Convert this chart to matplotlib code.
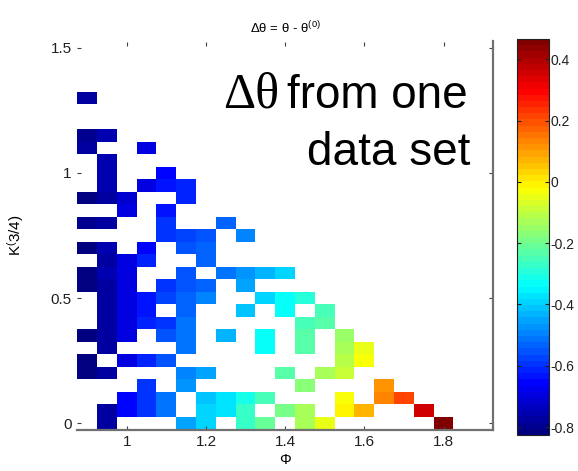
import numpy as np
import matplotlib
matplotlib.use("Agg")
import matplotlib.pyplot as plt
from matplotlib.colors import LinearSegmentedColormap

plt.rcParams["font.family"] = ["Liberation Sans", "DejaVu Sans"]
plt.rcParams["mathtext.fontset"] = "custom"
plt.rcParams["mathtext.rm"] = "Liberation Sans"
plt.rcParams["mathtext.it"] = "Liberation Sans:italic"
plt.rcParams["mathtext.default"] = "regular"
plt.rcParams["axes.unicode_minus"] = False

n = np.nan

# Bin centres of the (Phi, K^(3/4)) grid
phi_centers = [0.90, 0.95, 1.00, 1.05, 1.10, 1.15, 1.20, 1.25, 1.30, 1.35,
               1.40, 1.45, 1.50, 1.55, 1.60, 1.65, 1.70, 1.75, 1.80]
k_centers = [0.00, 0.05, 0.10, 0.15, 0.20, 0.25, 0.30, 0.35, 0.40, 0.45,
             0.50, 0.55, 0.60, 0.65, 0.70, 0.75, 0.80, 0.85, 0.90, 0.95,
             1.00, 1.05, 1.10, 1.15, 1.20, 1.25, 1.30]

# Delta theta per bin, one list per K row (bottom row first); NaN = empty bin
dtheta_rows = [
    [n, -0.775, n, n, n, -0.46, -0.40, n, -0.27, -0.215, n, -0.127, -0.056, n, n, n, n, n, 0.466],
    [n, -0.775, -0.663, -0.602, -0.51, n, -0.40, -0.37, -0.28, n, -0.185, -0.137, n, -0.016, 0.065, n, n, 0.347],
    [n, n, -0.663, -0.602, -0.521, n, -0.42, -0.37, -0.32, -0.258, n, n, n, -0.035, n, 0.136, 0.207],
    [n, n, n, -0.602, n, -0.481, n, n, n, n, n, -0.178, n, n, n, 0.106],
    [-0.82, -0.775, n, n, n, -0.49, -0.45, n, n, n, -0.238, n, -0.137, -0.087],
    [-0.82, n, -0.703, -0.623, -0.562, n, n, n, n, n, n, n, n, -0.106, -0.035],
    [n, -0.77, n, n, n, -0.521, n, n, n, -0.33, n, -0.238, n, -0.127, -0.05],
    [-0.82, -0.77, -0.70, n, -0.562, -0.521, n, -0.425, n, -0.339, n, -0.238, n, -0.145],
    [n, -0.77, -0.70, -0.623, -0.60, -0.521, n, n, n, n, n, -0.258, -0.23],
    [n, -0.77, -0.685, -0.642, n, -0.541, n, n, -0.42, n, -0.339, n, -0.258],
    [n, -0.77, -0.70, -0.642, -0.582, -0.541, -0.501, n, n, -0.39, -0.339, -0.299],
    [-0.815, -0.77, -0.70, n, -0.602, -0.562, -0.53, n, -0.455],
    [-0.806, -0.764, -0.703, n, n, -0.562, n, -0.51, -0.47, -0.43, -0.39],
    [n, -0.77, -0.703, -0.623, n, n, -0.541],
    [-0.806, -0.764, n, -0.663, n, -0.562, -0.541],
    [n, n, n, n, -0.602, -0.582, -0.55, n, -0.501],
    [-0.80, -0.775, n, n, -0.602, n, n, -0.541],
    [n, n, -0.703, n, -0.642],
    [-0.81, -0.775, -0.72, n, n, -0.623],
    [n, -0.76, n, -0.70, -0.642, -0.623],
    [n, -0.76, n, n, -0.663],
    [n, -0.76],
    [-0.78, n, n, -0.69],
    [-0.79, -0.76],
    [],
    [],
    [-0.77],
]

x_ticks = [1.0, 1.2, 1.4, 1.6, 1.8]
x_ticklabels = ["1", "1.2", "1.4", "1.6", "1.8"]
y_ticks = [0.0, 0.5, 1.0, 1.5]
y_ticklabels = ["0", "0.5", "1", "1.5"]
cb_ticks = [-0.8, -0.6, -0.4, -0.2, 0.0, 0.2, 0.4]
cb_ticklabels = ["-0.8", "-0.6", "-0.4", "-0.2", "0", "0.2", "0.4"]
c_min, c_max = -0.826, 0.466

# assemble the grid
Z = np.full((len(k_centers), len(phi_centers)), np.nan)
for j, row in enumerate(dtheta_rows):
    Z[j, :len(row)] = row
phi_c = np.asarray(phi_centers)
k_c = np.asarray(k_centers)
dphi = phi_c[1] - phi_c[0]
dk = k_c[1] - k_c[0]
phi_edges = np.append(phi_c - dphi / 2, phi_c[-1] + dphi / 2)
k_edges = np.append(k_c - dk / 2, k_c[-1] + dk / 2)

# classic 64-level jet
jet64 = LinearSegmentedColormap.from_list(
    "jet64",
    [(0.0, (0, 0, 0.5)), (1 / 8, (0, 0, 1)), (3 / 8, (0, 1, 1)),
     (5 / 8, (1, 1, 0)), (7 / 8, (1, 0, 0)), (1.0, (0.5, 0, 0))],
    N=64,
)

W, H = 578, 471
fig = plt.figure(figsize=(W / 100, H / 100), dpi=100)
ax = fig.add_axes([77.3 / W, 1 - 429.5 / H, (493 - 77.3) / W, (429.5 - 41.5) / H])
cax = fig.add_axes([517.3 / W, 1 - 435 / H, 31.7 / W, (435 - 39) / H])

mesh = ax.pcolormesh(phi_edges, k_edges, np.ma.masked_invalid(Z), cmap=jet64,
                     vmin=c_min, vmax=c_max, shading="flat")
ax.set_xlim(0.875, 1.925)
ax.set_ylim(-0.025, 1.525)

ax.set_xticks(x_ticks)
ax.set_xticklabels(x_ticklabels)
ax.set_yticks(y_ticks)
ax.set_yticklabels(y_ticklabels)
ax.tick_params(direction="in", top=True, right=True, length=3, width=0.8,
               color="#404040", labelsize=11, pad=4, labelcolor="#202020")
for side in ("left", "top"):
    ax.spines[side].set_visible(False)
for side in ("bottom", "right"):
    ax.spines[side].set_color("#707070")
    ax.spines[side].set_linewidth(1.6)

ax.set_xlabel("Φ", fontsize=10.5, labelpad=3)
ax.set_ylabel("K$^{(}$3/4)", fontsize=11, labelpad=18)
ax.set_title("Δθ = θ - θ$^{(0)}$", fontsize=9.5, pad=6)

cb = fig.colorbar(mesh, cax=cax, ticks=cb_ticks)
cb.ax.set_yticklabels(cb_ticklabels)
cb.ax.tick_params(direction="in", left=True, right=True, length=3, width=0.8,
                  labelsize=10, pad=1, labelcolor="#202020", color="#202020")
cb.outline.set_edgecolor("#202020")
cb.outline.set_linewidth(0.8)

# annotation in the upper right of the panel
big = 33
t1 = fig.text(468 / W, 1 - 108 / H, "from one", ha="right", va="baseline",
              fontsize=big, family="Liberation Sans")
fig.text(470 / W, 1 - 165 / H, "data set", ha="right", va="baseline",
         fontsize=big, family="Liberation Sans")
fig.canvas.draw()
bb = t1.get_window_extent(fig.canvas.get_renderer())
fig.text((bb.x0 - 8) / W, 1 - 108 / H, "Δθ", ha="right", va="baseline",
         fontsize=36, family="Liberation Serif")

fig.savefig("out.png", dpi=100)
